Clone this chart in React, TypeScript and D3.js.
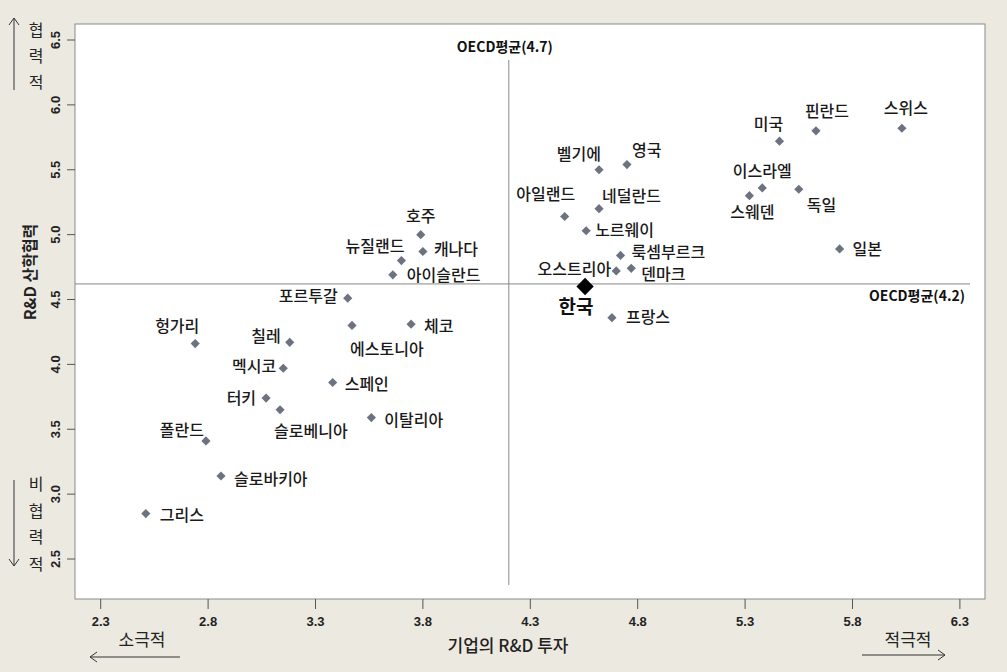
import React from "react";
import * as d3 from "d3";

const countries = ["스위스","핀란드","미국","이스라엘","스웨덴","독일","일본","영국","벨기에","네덜란드","아일랜드","노르웨이","룩셈부르크","오스트리아","덴마크","프랑스","호주","캐나다","뉴질랜드","아이슬란드","포르투갈","체코","에스토니아","칠레","헝가리","멕시코","스페인","터키","슬로베니아","이탈리아","폴란드","슬로바키아","그리스"];
const investment = [6.03,5.63,5.46,5.38,5.32,5.55,5.74,4.75,4.62,4.62,4.46,4.56,4.72,4.70,4.77,4.68,3.79,3.80,3.70,3.66,3.45,3.745,3.47,3.18,2.74,3.15,3.38,3.07,3.135,3.56,2.79,2.86,2.51];
const cooperation = [5.82,5.80,5.72,5.36,5.30,5.35,4.89,5.54,5.50,5.20,5.14,5.03,4.84,4.72,4.74,4.36,5.00,4.87,4.80,4.69,4.51,4.31,4.30,4.17,4.16,3.97,3.86,3.74,3.65,3.59,3.41,3.14,2.85];
const korea = { name: "한국", x: 4.555, y: 4.60 };
const xTicks = [2.3,2.8,3.3,3.8,4.3,4.8,5.3,5.8,6.3];
const yTicks = [2.5,3.0,3.5,4.0,4.5,5.0,5.5,6.0,6.5];
const oecdX = 4.2;
const oecdY = 4.62;
const oecdXLabel = "OECD평균(4.7)";
const oecdYLabel = "OECD평균(4.2)";

// label placement: [dx, dy, anchor]
const labelPlace: [number, number, string][] = [
  [4,-20,"middle"],[11,-19,"middle"],[-11,-17,"middle"],[0,-17,"middle"],[3,17,"middle"],[8,16,"start"],[13,1,"start"],
  [5,-14,"start"],[2,-15,"end"],[3,-12,"start"],[-19,-22,"middle"],[9,0,"start"],[11,-3,"start"],[-5,-2,"end"],[10,6,"start"],[14,0,"start"],
  [0,-18,"middle"],[11,-2,"start"],[3,-14,"end"],[14,1,"start"],[-10,-2,"end"],[13,2,"start"],[-2,24,"start"],[-9,-6,"end"],[-18,-17,"middle"],[-7,-2,"end"],[12,2,"start"],[-10,0,"end"],[-6,22,"start"],[13,3,"start"],[-2,-11,"end"],[13,3,"start"],[14,2,"start"]
];

const W = 1007, H = 672;
const L = 75, T = 24, R = 985, B = 599;

export default function App() {
  const x = d3.scaleLinear().domain([2.3, 6.3]).range([100.7, 959.9]);
  const y = d3.scaleLinear().domain([2.5, 6.5]).range([559, 40]);
  const diamond = d3.symbol().type(d3.symbolSquare);
  const font = "'Noto Sans CJK KR', 'Noto Sans', sans-serif";
  const bold = "'Liberation Sans', Arial, sans-serif";
  return (
    <svg width={W} height={H} style={{ position: "absolute", left: 0, top: 0 }}>
      <rect x={0} y={0} width={W} height={H} fill="#ECE9E1" />
      <rect x={L} y={T} width={R - L} height={B - T} fill="#FFFFFF" stroke="#8A8A8A" strokeWidth={1} />
      {/* reference lines */}
      <line x1={x(oecdX)} x2={x(oecdX)} y1={60} y2={585} stroke="#888" strokeWidth={1} />
      <line x1={L} x2={970} y1={y(oecdY)} y2={y(oecdY)} stroke="#888" strokeWidth={1} />
      <text x={x(oecdX) - 4} y={52} textAnchor="middle" fontFamily={font} fontWeight={700} fontSize={14} fill="#111">{oecdXLabel}</text>
      <text x={965} y={301} textAnchor="end" fontFamily={font} fontWeight={700} fontSize={14} fill="#111">{oecdYLabel}</text>
      {/* x ticks */}
      {xTicks.map((t) => (
        <g key={"x" + t}>
          <line x1={x(t)} x2={x(t)} y1={B} y2={B + 10} stroke="#555" />
          <text x={x(t)} y={626} textAnchor="middle" fontFamily={bold} fontWeight={700} fontSize={13} fill="#222">{t.toFixed(1)}</text>
        </g>
      ))}
      {/* y ticks */}
      {yTicks.map((t) => (
        <g key={"y" + t}>
          <line x1={L - 8} x2={L} y1={y(t)} y2={y(t)} stroke="#555" />
          <text transform={`translate(60,${y(t)}) rotate(-90)`} textAnchor="middle" fontFamily={bold} fontWeight={700} fontSize={13} fill="#222">{t.toFixed(1)}</text>
        </g>
      ))}
      {/* axis titles */}
      <text x={508} y={652} textAnchor="middle" fontFamily={font} fontSize={17} fontWeight={500} fill="#222">기업의 R&amp;D 투자</text>
      <text transform="translate(36,272) rotate(-90)" textAnchor="middle" fontFamily={font} fontSize={16} fontWeight={700} fill="#222">R&amp;D 산학협력</text>
      <text x={142} y={646} textAnchor="middle" fontFamily={font} fontSize={17} fill="#222">소극적</text>
      <text x={908} y={646} textAnchor="middle" fontFamily={font} fontSize={17} fill="#222">적극적</text>
      <line x1={90} x2={180} y1={657} y2={657} stroke="#333" />
      <path d="M97,652 L90,657 L97,662" fill="none" stroke="#333" />
      <line x1={862} x2={945} y1={655} y2={655} stroke="#333" />
      <path d="M938,650 L945,655 L938,660" fill="none" stroke="#333" />
      {["협", "력", "적"].map((c, i) => (
        <text key={"u" + i} x={36} y={36 + i * 26} textAnchor="middle" fontFamily={font} fontSize={16} fill="#222">{c}</text>
      ))}
      <line x1={14} x2={14} y1={18} y2={90} stroke="#333" />
      <path d="M9,25 L14,18 L19,25" fill="none" stroke="#333" />
      {["비", "협", "력", "적"].map((c, i) => (
        <text key={"d" + i} x={36} y={490 + i * 26.5} textAnchor="middle" fontFamily={font} fontSize={16} fill="#222">{c}</text>
      ))}
      <line x1={14} x2={14} y1={480} y2={566} stroke="#333" />
      <path d="M9,559 L14,566 L19,559" fill="none" stroke="#333" />
      {/* points */}
      {countries.map((c, i) => {
        const px = x(investment[i]);
        const py = y(cooperation[i]);
        const [dx, dy, anchor] = labelPlace[i];
        return (
          <g key={c}>
            <path d={diamond.size(42)() as string} transform={`translate(${px},${py}) rotate(45)`} fill="#6D7280" />
            <text x={px + dx} y={py + dy} dy="0.35em" textAnchor={anchor as any} fontFamily={font} fontSize={16} fontWeight={500} fill="#1a1a1a">{c}</text>
          </g>
        );
      })}
      <path d={diamond.size(150)() as string} transform={`translate(${x(korea.x)},${y(korea.y)}) rotate(45)`} fill="#000" />
      <text x={x(korea.x) - 9} y={y(korea.y) + 21} dy="0.35em" textAnchor="middle" fontFamily={font} fontSize={19} fontWeight={700} fill="#111">{korea.name}</text>
    </svg>
  );
}
